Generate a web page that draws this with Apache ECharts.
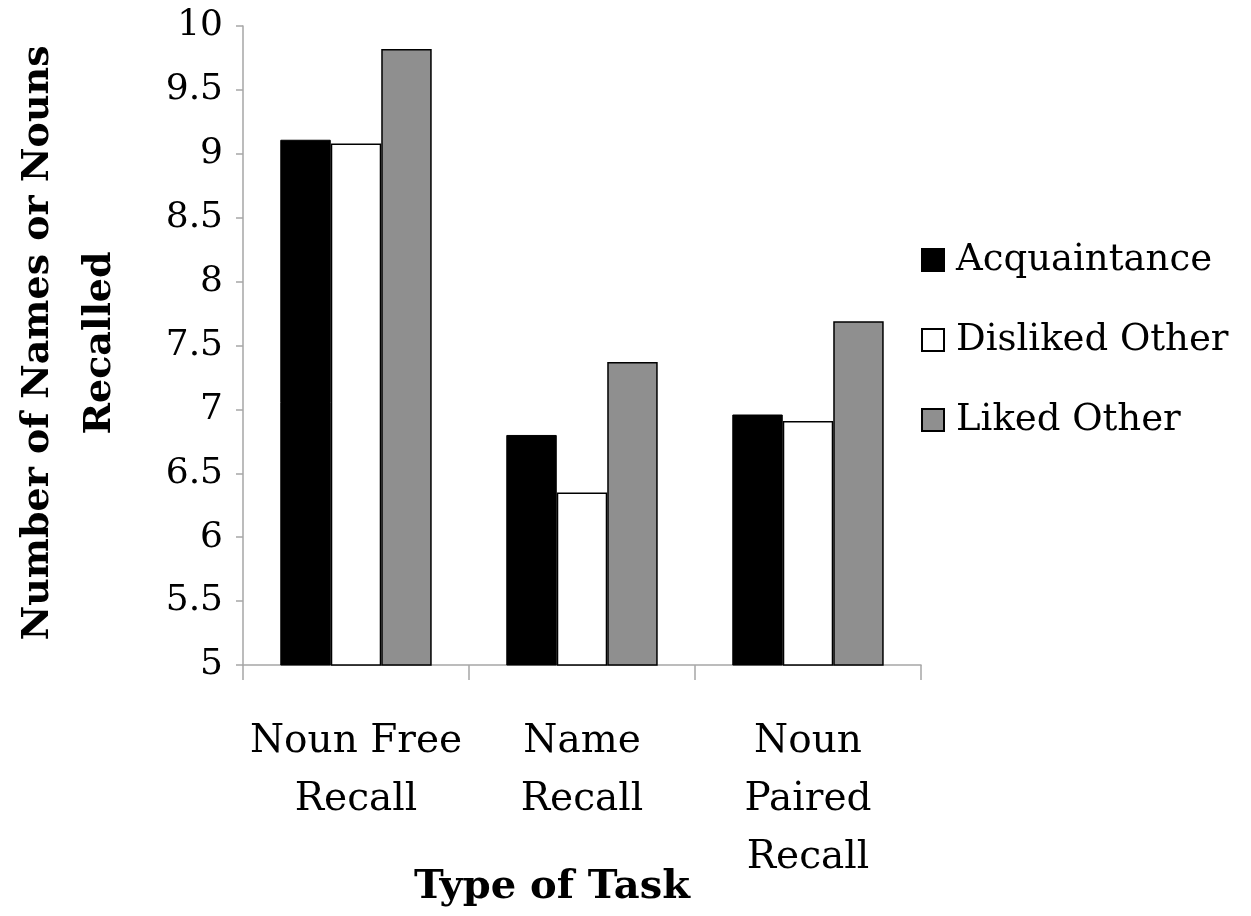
<!DOCTYPE html>
<html>
<head>
<meta charset="utf-8">
<script src="https://cdn.jsdelivr.net/npm/echarts@6/dist/echarts.min.js"></script>
<style>
  html, body { margin: 0; padding: 0; background: #fff; }
  #chart { width: 1251px; height: 916px; }
</style>
</head>
<body>
<div id="chart"></div>
<script>
// task types on the x axis
const categories = ['Noun Free\nRecall', 'Name\nRecall', 'Noun\nPaired\nRecall'];

// mean number recalled, per target
const acquaintance = [9.11, 6.80, 6.96];
const dislikedOther = [9.08, 6.35, 6.91];
const likedOther = [9.82, 7.37, 7.69];

const seriesNames = ['Acquaintance', 'Disliked Other', 'Liked Other'];

const serif = '"DejaVu Serif", "Liberation Serif", serif';
const axisGray = '#a6a6a6';

const chart = echarts.init(document.getElementById('chart'), null, { renderer: 'canvas' });

const option = {
  backgroundColor: '#fff',
  animation: false,
  grid: { left: 243, right: 330, top: 26, bottom: 251 },
  legend: {
    orient: 'vertical',
    left: 916,
    top: 233,
    icon: 'rect',
    itemWidth: 22,
    itemHeight: 22,
    itemGap: 36,
    textStyle: { fontFamily: serif, fontSize: 37, color: '#000', lineHeight: 44, padding: [0, 0, 0, 7] },
    data: seriesNames
  },
  xAxis: {
    type: 'category',
    data: categories,
    axisLine: { lineStyle: { color: axisGray, width: 1.5 } },
    axisTick: { show: true, length: 15, lineStyle: { color: axisGray, width: 1.5 } },
    axisLabel: {
      interval: 0,
      margin: 48,
      fontFamily: serif,
      fontSize: 39,
      lineHeight: 58,
      color: '#000'
    }
  },
  yAxis: {
    type: 'value',
    min: 5,
    max: 10,
    interval: 0.5,
    splitLine: { show: false },
    axisLine: { show: true, lineStyle: { color: axisGray, width: 1.5 } },
    axisTick: { show: true, length: 7, lineStyle: { color: axisGray, width: 1.5 } },
    axisLabel: { margin: 20, fontFamily: serif, fontSize: 36, color: '#000' }
  },
  series: [
    {
      name: seriesNames[0],
      type: 'bar',
      data: acquaintance,
      barGap: '0%',
      barCategoryGap: '33%',
      itemStyle: { color: '#000', borderColor: '#000', borderWidth: 1 }
    },
    {
      name: seriesNames[1],
      type: 'bar',
      data: dislikedOther,
      itemStyle: { color: '#fff', borderColor: '#000', borderWidth: 1.5 }
    },
    {
      name: seriesNames[2],
      type: 'bar',
      data: likedOther,
      itemStyle: { color: '#8f8f8f', borderColor: '#000', borderWidth: 1.5 }
    }
  ],
  graphic: [
    {
      type: 'text',
      x: 69,
      y: 343,
      rotation: Math.PI / 2,
      style: {
        text: 'Number of Names or Nouns\nRecalled',
        fontFamily: serif,
        fontWeight: 'bold',
        fontSize: 38,
        lineHeight: 62,
        fill: '#000',
        align: 'center',
        verticalAlign: 'middle'
      }
    },
    {
      type: 'text',
      x: 552,
      y: 888,
      style: {
        text: 'Type of Task',
        fontFamily: serif,
        fontWeight: 'bold',
        fontSize: 40,
        fill: '#000',
        align: 'center',
        verticalAlign: 'middle'
      }
    }
  ]
};

chart.setOption(option);
</script>
</body>
</html>
